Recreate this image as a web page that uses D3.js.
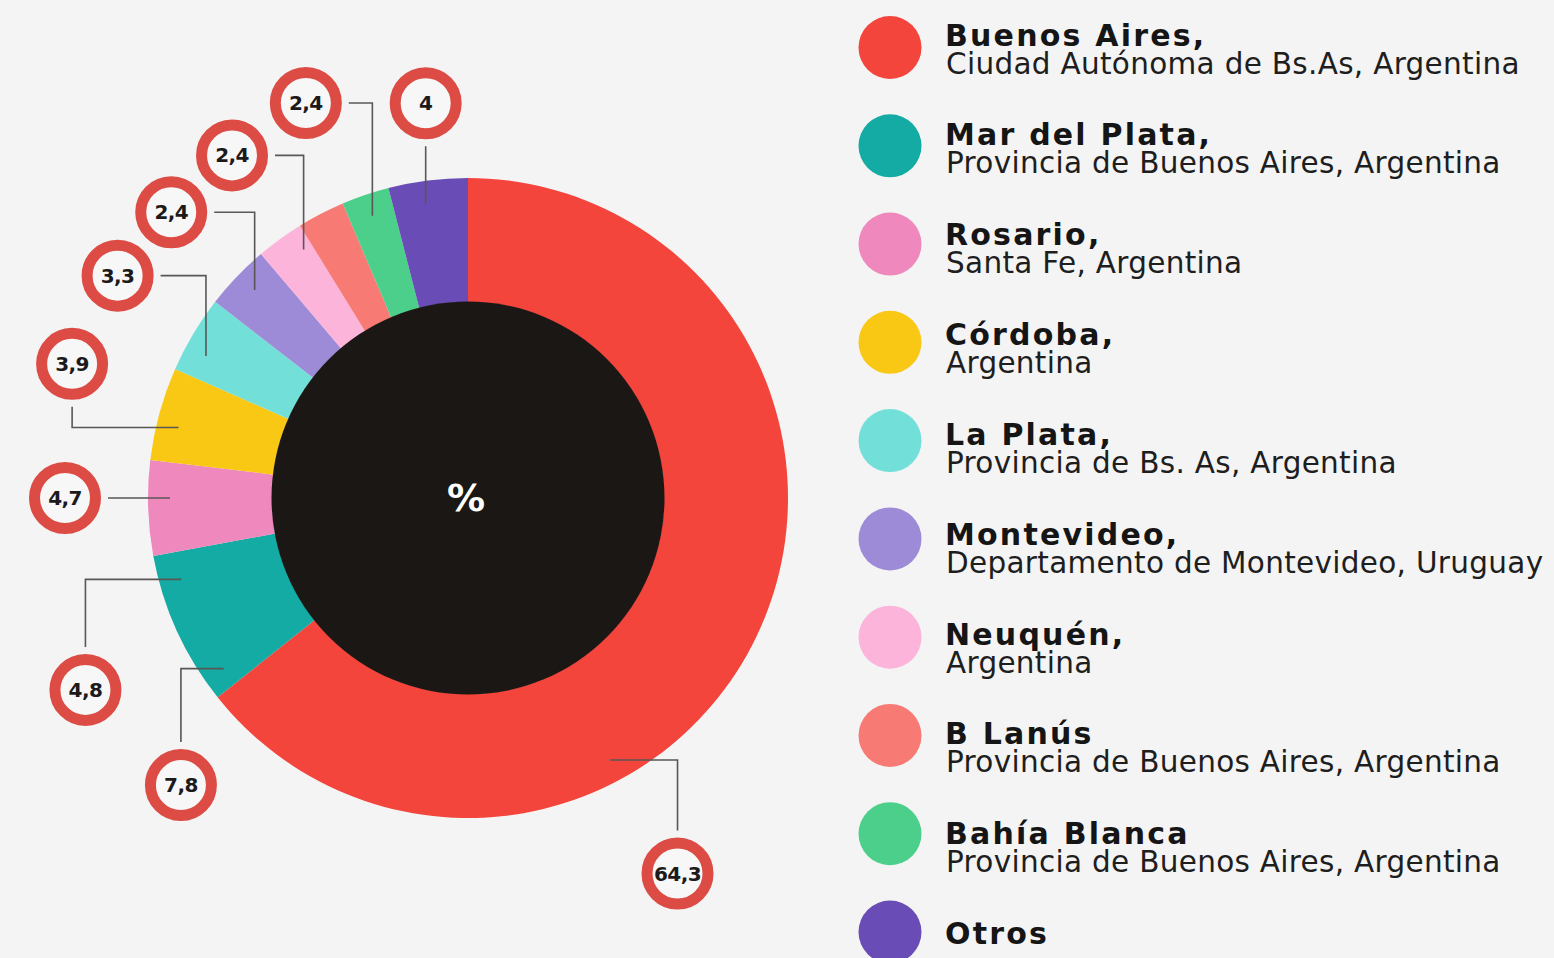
<!DOCTYPE html>
<html>
<head>
<meta charset="utf-8">
<script src="https://cdn.jsdelivr.net/npm/d3@7"></script>
<style>
  html, body { margin: 0; padding: 0; background: #f4f4f4; }
  svg { display: block; }
</style>
</head>
<body>
<div id="chart"></div>
<script>
var cities = ["Buenos Aires,", "Mar del Plata,", "Rosario,", "Córdoba,", "La Plata,",
  "Montevideo,", "Neuquén,", "B Lanús", "Bahía Blanca", "Otros"];
var regions = ["Ciudad Autónoma de Bs.As, Argentina", "Provincia de Buenos Aires, Argentina",
  "Santa Fe, Argentina", "Argentina", "Provincia de Bs. As, Argentina",
  "Departamento de Montevideo, Uruguay", "Argentina", "Provincia de Buenos Aires, Argentina",
  "Provincia de Buenos Aires, Argentina", ""];
var shares = [64.3, 7.8, 4.8, 4.7, 3.9, 3.3, 2.4, 2.4, 2.4, 4];
var sliceColors = ["#f4453c", "#13aba3", "#ee88bd", "#f8c814", "#72e0d9",
  "#9d8bd7", "#fcb4da", "#f77b74", "#4ccf8b", "#6a4cb6"];

// where the callouts sit on the original, in percent along the ring
// (the printed values do not follow the slice order exactly)
var calloutAnchor = [42.1, 65.3, 70.6, 75, 78.8, 82.9, 87.3, 90.7, 94.8, 97.75];
var calloutAt = [41.9, 62.5, 67.6, 75, 80.2, 84.0, 87.2, 90.4, 93.8, 98.3];
var calloutDist = [430, 406, 428, 403, 418, 415, 412, 416, 427, 397];

var svgWidth = 1554;
var svgHeight = 958;
var cx = 468, cy = 498;
var outerR = 320, innerR = 196;
var anchorR = 298;
var bubbleR = 30.5, bubbleStroke = 11;
var gap = bubbleR + bubbleStroke / 2 + 7;

var svg = d3.select("#chart")
  .append("svg")
  .attr("width", svgWidth)
  .attr("height", svgHeight);

svg.append("rect")
  .attr("width", svgWidth)
  .attr("height", svgHeight)
  .attr("fill", "#f4f4f4");

var chartGroup = svg.append("g")
  .attr("transform", `translate(${cx}, ${cy})`);

var pie = d3.pie().sort(null).value(d => d);
var arc = d3.arc().innerRadius(innerR).outerRadius(outerR);
var ringAngle = d3.scaleLinear().domain([0, 100]).range([0, 2 * Math.PI]);

chartGroup.selectAll("path.slice")
  .data(pie(shares))
  .enter()
  .append("path")
  .attr("class", "slice")
  .attr("d", arc)
  .attr("fill", (d, i) => sliceColors[i]);

chartGroup.append("circle")
  .attr("r", innerR + 0.5)
  .attr("fill", "#1b1714");

chartGroup.append("text")
  .attr("x", -2)
  .attr("y", 0)
  .attr("text-anchor", "middle")
  .attr("dominant-baseline", "central")
  .attr("fill", "#ffffff")
  .style("font-family", "DejaVu Sans")
  .style("font-weight", "bold")
  .style("font-size", "38px")
  .text("%");

// callouts
var fmt = d => String(d).replace(".", ",");

var callouts = shares.map(function(v, i) {
  var a = d3.pointRadial(ringAngle(calloutAnchor[i]), anchorR);
  var c = d3.pointRadial(ringAngle(calloutAt[i]), calloutDist[i]);
  return { text: fmt(v), a: a, c: c, upper: calloutAt[i] > 82 };
});

function leader(d) {
  var a = d.a, c = d.c;
  var horizontalFirst = d.upper;
  if (!horizontalFirst && Math.abs(a[1] - c[1]) < gap) horizontalFirst = true;
  if (horizontalFirst && Math.abs(a[0] - c[0]) < gap) horizontalFirst = false;
  var pts;
  if (horizontalFirst) {
    var sx = c[0] + Math.sign(a[0] - c[0]) * gap;
    pts = [[sx, c[1]], [a[0], c[1]], a];
  } else {
    var sy = c[1] + Math.sign(a[1] - c[1]) * gap;
    pts = [[c[0], sy], [c[0], a[1]], a];
  }
  return d3.line()(pts);
}

chartGroup.selectAll("path.leader")
  .data(callouts)
  .enter()
  .append("path")
  .attr("class", "leader")
  .attr("d", leader)
  .attr("fill", "none")
  .attr("stroke", "#5a5656")
  .attr("stroke-width", 1.6);

var bubbles = chartGroup.selectAll("g.bubble")
  .data(callouts)
  .enter()
  .append("g")
  .attr("class", "bubble")
  .attr("transform", d => `translate(${d.c[0]}, ${d.c[1]})`);

bubbles.append("circle")
  .attr("r", bubbleR)
  .attr("fill", "#f8f7f7")
  .attr("stroke", "#dc4c45")
  .attr("stroke-width", bubbleStroke);

bubbles.append("text")
  .attr("text-anchor", "middle")
  .attr("dominant-baseline", "central")
  .attr("fill", "#1c1a1a")
  .style("font-family", "DejaVu Sans")
  .style("font-weight", "bold")
  .style("font-size", "20px")
  .style("letter-spacing", "-0.6px")
  .text(d => d.text);

// legend
var swatchY = d3.scalePoint().domain(cities).range([47.5, 932]);
var titleY = d3.scalePoint().domain(cities).range([45.5, 944]);

var legend = svg.append("g");

legend.selectAll("circle")
  .data(cities)
  .enter()
  .append("circle")
  .attr("cx", 890)
  .attr("cy", d => swatchY(d))
  .attr("r", 31.5)
  .attr("fill", (d, i) => sliceColors[i]);

// city name and region as two lines of one text
var entries = legend.selectAll("text.entry")
  .data(cities)
  .enter()
  .append("text")
  .attr("class", "entry")
  .attr("transform", d => `translate(945, ${titleY(d)})`)
  .style("font-family", "DejaVu Sans");

entries.append("tspan")
  .attr("x", 0)
  .attr("y", 0)
  .attr("fill", "#151515")
  .style("font-weight", "bold")
  .style("font-size", "30px")
  .style("letter-spacing", "2.2px")
  .text(d => d);

entries.append("tspan")
  .attr("x", 1)
  .attr("y", 28)
  .attr("fill", "#1e1e1e")
  .style("font-size", "29.5px")
  .style("letter-spacing", "0.3px")
  .text((d, i) => regions[i]);
</script>
</body>
</html>
